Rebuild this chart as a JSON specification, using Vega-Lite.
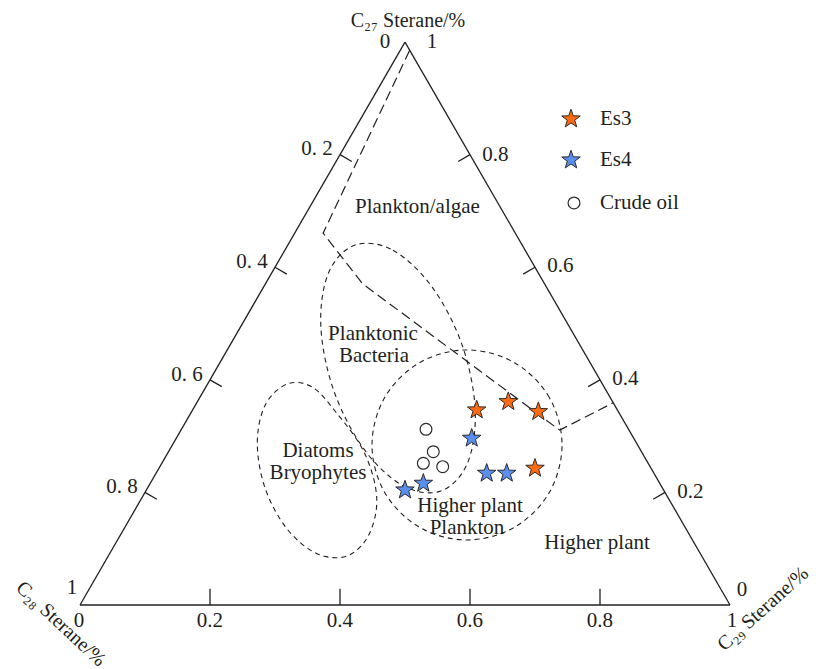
{
  "$schema": "https://vega.github.io/schema/vega-lite/v6.json",
  "width": 816,
  "height": 669,
  "padding": 0,
  "autosize": {"type": "none"},
  "background": "white",
  "config": {"view": {"stroke": null}},
  "datasets": {
    "frame": [
      {"x": 0, "y": 0, "x2": 1, "y2": 0},
      {"x": 0, "y": 0, "x2": 0.5, "y2": 0.866},
      {"x": 1, "y": 0, "x2": 0.5, "y2": 0.866},
      {"x": 0.4, "y": 0.6928, "x2": 0.4182, "y2": 0.6823},
      {"x": 0.3, "y": 0.5196, "x2": 0.3182, "y2": 0.5091},
      {"x": 0.2, "y": 0.3464, "x2": 0.2182, "y2": 0.3359},
      {"x": 0.1, "y": 0.1732, "x2": 0.1182, "y2": 0.1627},
      {"x": 0.9, "y": 0.1732, "x2": 0.8818, "y2": 0.1627},
      {"x": 0.8, "y": 0.3464, "x2": 0.7818, "y2": 0.3359},
      {"x": 0.7, "y": 0.5196, "x2": 0.6818, "y2": 0.5091},
      {"x": 0.6, "y": 0.6928, "x2": 0.5818, "y2": 0.6823},
      {"x": 0.2, "y": 0, "x2": 0.2, "y2": 0.025},
      {"x": 0.4, "y": 0, "x2": 0.4, "y2": 0.025},
      {"x": 0.6, "y": 0, "x2": 0.6, "y2": 0.025},
      {"x": 0.8, "y": 0, "x2": 0.8, "y2": 0.025}
    ],
    "boundary": [
      {"i": 0, "x": 0.507, "y": 0.853},
      {"i": 1, "x": 0.374, "y": 0.572},
      {"i": 2, "x": 0.435, "y": 0.494},
      {"i": 3, "x": 0.738, "y": 0.269},
      {"i": 4, "x": 0.82, "y": 0.311}
    ],
    "zoneA": [
      {"i": 0, "x": 0.4232, "y": 0.5538},
      {"i": 1, "x": 0.4815, "y": 0.5457},
      {"i": 2, "x": 0.5418, "y": 0.4891},
      {"i": 3, "x": 0.5882, "y": 0.3991},
      {"i": 4, "x": 0.608, "y": 0.2998},
      {"i": 5, "x": 0.596, "y": 0.218},
      {"i": 6, "x": 0.5552, "y": 0.1754},
      {"i": 7, "x": 0.4969, "y": 0.1835},
      {"i": 8, "x": 0.4366, "y": 0.2402},
      {"i": 9, "x": 0.3903, "y": 0.3302},
      {"i": 10, "x": 0.3705, "y": 0.4294},
      {"i": 11, "x": 0.3825, "y": 0.5112}
    ],
    "zoneB": [
      {"i": 0, "x": 0.4098, "y": 0.0752},
      {"i": 1, "x": 0.4438, "y": 0.1068},
      {"i": 2, "x": 0.4565, "y": 0.1652},
      {"i": 3, "x": 0.4369, "y": 0.2354},
      {"i": 4, "x": 0.3923, "y": 0.2985},
      {"i": 5, "x": 0.3569, "y": 0.3354},
      {"i": 6, "x": 0.3194, "y": 0.3402},
      {"i": 7, "x": 0.2854, "y": 0.3086},
      {"i": 8, "x": 0.2728, "y": 0.2502},
      {"i": 9, "x": 0.2846, "y": 0.1803},
      {"i": 10, "x": 0.318, "y": 0.1178},
      {"i": 11, "x": 0.3638, "y": 0.0794}
    ],
    "zoneC": [
      {"i": 0, "x": 0.7416, "y": 0.2462},
      {"i": 1, "x": 0.722, "y": 0.3193},
      {"i": 2, "x": 0.6685, "y": 0.3728},
      {"i": 3, "x": 0.5954, "y": 0.3924},
      {"i": 4, "x": 0.5223, "y": 0.3728},
      {"i": 5, "x": 0.4688, "y": 0.3193},
      {"i": 6, "x": 0.4492, "y": 0.2462},
      {"i": 7, "x": 0.4688, "y": 0.1731},
      {"i": 8, "x": 0.5223, "y": 0.1196},
      {"i": 9, "x": 0.5954, "y": 0.1},
      {"i": 10, "x": 0.6685, "y": 0.1196},
      {"i": 11, "x": 0.722, "y": 0.1731}
    ],
    "es3": [
      {"x": 0.6103, "y": 0.3},
      {"x": 0.6589, "y": 0.3128},
      {"x": 0.7051, "y": 0.2974},
      {"x": 0.7, "y": 0.2103},
      {"x": 0.7554, "y": 0.7477}
    ],
    "es4": [
      {"x": 0.6026, "y": 0.2565},
      {"x": 0.6257, "y": 0.2026},
      {"x": 0.6565, "y": 0.2026},
      {"x": 0.5282, "y": 0.1872},
      {"x": 0.5, "y": 0.1769},
      {"x": 0.7554, "y": 0.6846}
    ],
    "crude": [
      {"x": 0.5323, "y": 0.2703},
      {"x": 0.5435, "y": 0.2358},
      {"x": 0.5282, "y": 0.218},
      {"x": 0.558, "y": 0.2128},
      {"x": 0.76, "y": 0.6185}
    ],
    "legendLabels": [
      {"x": 0.8, "y": 0.7477, "text": "Es3"},
      {"x": 0.8, "y": 0.6846, "text": "Es4"},
      {"x": 0.8, "y": 0.6185, "text": "Crude oil"}
    ],
    "regions": [
      {"x": 0.5192, "y": 0.6123, "text": "Plankton/algae"},
      {"x": 0.4508, "y": 0.4169, "text": "Planktonic"},
      {"x": 0.4523, "y": 0.3831, "text": "Bacteria"},
      {"x": 0.3662, "y": 0.2369, "text": "Diatoms"},
      {"x": 0.3662, "y": 0.2031, "text": "Bryophytes"},
      {"x": 0.6, "y": 0.1523, "text": "Higher plant"},
      {"x": 0.5954, "y": 0.1185, "text": "Plankton"},
      {"x": 0.7954, "y": 0.0954, "text": "Higher plant"}
    ],
    "leftLabels": [
      {"x": 0.389, "y": 0.7008, "text": "0. 2"},
      {"x": 0.289, "y": 0.5276, "text": "0. 4"},
      {"x": 0.189, "y": 0.3544, "text": "0. 6"},
      {"x": 0.089, "y": 0.1812, "text": "0. 8"}
    ],
    "rightLabels": [
      {"x": 0.619, "y": 0.6928, "text": "0.8"},
      {"x": 0.719, "y": 0.5216, "text": "0.6"},
      {"x": 0.819, "y": 0.3484, "text": "0.4"},
      {"x": 0.919, "y": 0.1732, "text": "0.2"}
    ],
    "centerLabels": [
      {"x": 0.2, "y": -0.0246, "text": "0.2"},
      {"x": 0.4, "y": -0.0246, "text": "0.4"},
      {"x": 0.6, "y": -0.0246, "text": "0.6"},
      {"x": 0.8, "y": -0.0246, "text": "0.8"},
      {"x": 0.4692, "y": 0.866, "text": "0"},
      {"x": 0.5415, "y": 0.866, "text": "1"},
      {"x": -0.0123, "y": 0.0262, "text": "1"},
      {"x": -0.0015, "y": -0.0246, "text": "0"},
      {"x": 1.0185, "y": 0.0231, "text": "0"},
      {"x": 1.003, "y": -0.0246, "text": "1"}
    ],
    "titleTop": [{"x": 0.5046, "y": 0.898, "text": "C₂₇ Sterane/%"}],
    "titleLeft": [{"x": -0.0292, "y": -0.0292, "text": "C₂₈ Sterane/%"}],
    "titleRight": [{"x": 1.0508, "y": -0.006, "text": "C₂₉ Sterane/%"}]
  },
  "layer": [
    {
      "data": {"name": "frame"},
      "mark": {"type": "rule", "color": "#231f20", "strokeWidth": 1.3},
      "encoding": {
        "x": {"field": "x", "type": "quantitative", "scale": {"domain": [-0.123077, 1.132308], "nice": false, "zero": false}, "axis": null},
        "y": {"field": "y", "type": "quantitative", "scale": {"domain": [-0.098462, 0.930769], "nice": false, "zero": false}, "axis": null},
        "x2": {"field": "x2"}, "y2": {"field": "y2"}
      }
    },
    {
      "data": {"name": "boundary"},
      "mark": {"type": "line", "color": "#231f20", "strokeWidth": 1.2, "strokeDash": [10, 5]},
      "encoding": {
        "x": {"field": "x", "type": "quantitative"},
        "y": {"field": "y", "type": "quantitative"},
        "order": {"field": "i", "type": "quantitative"}
      }
    },
    {
      "data": {"name": "zoneA"},
      "mark": {"type": "line", "color": "#231f20", "strokeWidth": 1.1, "strokeDash": [5, 4], "interpolate": "cardinal-closed"},
      "encoding": {
        "x": {"field": "x", "type": "quantitative"},
        "y": {"field": "y", "type": "quantitative"},
        "order": {"field": "i", "type": "quantitative"}
      }
    },
    {
      "data": {"name": "zoneB"},
      "mark": {"type": "line", "color": "#231f20", "strokeWidth": 1.1, "strokeDash": [5, 4], "interpolate": "cardinal-closed"},
      "encoding": {
        "x": {"field": "x", "type": "quantitative"},
        "y": {"field": "y", "type": "quantitative"},
        "order": {"field": "i", "type": "quantitative"}
      }
    },
    {
      "data": {"name": "zoneC"},
      "mark": {"type": "line", "color": "#231f20", "strokeWidth": 1.1, "strokeDash": [5, 4], "interpolate": "cardinal-closed"},
      "encoding": {
        "x": {"field": "x", "type": "quantitative"},
        "y": {"field": "y", "type": "quantitative"},
        "order": {"field": "i", "type": "quantitative"}
      }
    },
    {
      "data": {"name": "regions"},
      "mark": {"type": "text", "font": "Liberation Serif", "fontSize": 21, "color": "#231f20", "align": "center", "baseline": "middle"},
      "encoding": {"x": {"field": "x", "type": "quantitative"}, "y": {"field": "y", "type": "quantitative"}, "text": {"field": "text"}}
    },
    {
      "data": {"name": "leftLabels"},
      "mark": {"type": "text", "font": "Liberation Serif", "fontSize": 21, "color": "#231f20", "align": "right", "baseline": "middle"},
      "encoding": {"x": {"field": "x", "type": "quantitative"}, "y": {"field": "y", "type": "quantitative"}, "text": {"field": "text"}}
    },
    {
      "data": {"name": "rightLabels"},
      "mark": {"type": "text", "font": "Liberation Serif", "fontSize": 21, "color": "#231f20", "align": "left", "baseline": "middle"},
      "encoding": {"x": {"field": "x", "type": "quantitative"}, "y": {"field": "y", "type": "quantitative"}, "text": {"field": "text"}}
    },
    {
      "data": {"name": "centerLabels"},
      "mark": {"type": "text", "font": "Liberation Serif", "fontSize": 21, "color": "#231f20", "align": "center", "baseline": "middle"},
      "encoding": {"x": {"field": "x", "type": "quantitative"}, "y": {"field": "y", "type": "quantitative"}, "text": {"field": "text"}}
    },
    {
      "data": {"name": "titleTop"},
      "mark": {"type": "text", "font": "Liberation Serif", "fontSize": 20, "color": "#231f20", "align": "center", "baseline": "middle"},
      "encoding": {"x": {"field": "x", "type": "quantitative"}, "y": {"field": "y", "type": "quantitative"}, "text": {"field": "text"}}
    },
    {
      "data": {"name": "titleLeft"},
      "mark": {"type": "text", "font": "Liberation Serif", "fontSize": 20, "color": "#231f20", "align": "center", "baseline": "middle", "angle": 43},
      "encoding": {"x": {"field": "x", "type": "quantitative"}, "y": {"field": "y", "type": "quantitative"}, "text": {"field": "text"}}
    },
    {
      "data": {"name": "titleRight"},
      "mark": {"type": "text", "font": "Liberation Serif", "fontSize": 20, "color": "#231f20", "align": "center", "baseline": "middle", "angle": -42},
      "encoding": {"x": {"field": "x", "type": "quantitative"}, "y": {"field": "y", "type": "quantitative"}, "text": {"field": "text"}}
    },
    {
      "data": {"name": "legendLabels"},
      "mark": {"type": "text", "font": "Liberation Serif", "fontSize": 21, "color": "#231f20", "align": "left", "baseline": "middle"},
      "encoding": {"x": {"field": "x", "type": "quantitative"}, "y": {"field": "y", "type": "quantitative"}, "text": {"field": "text"}}
    },
    {
      "data": {"name": "crude"},
      "mark": {"type": "point", "shape": "circle", "filled": true, "fill": "#ffffff", "size": 140, "stroke": "#2b2b2b", "strokeWidth": 1.2, "opacity": 1},
      "encoding": {"x": {"field": "x", "type": "quantitative"}, "y": {"field": "y", "type": "quantitative"}}
    },
    {
      "data": {"name": "es3"},
      "mark": {"type": "point", "shape": "M0,-1L0.2351,-0.3236L0.9511,-0.309L0.3804,0.1236L0.5878,0.809L0,0.4L-0.5878,0.809L-0.3804,0.1236L-0.9511,-0.309L-0.2351,-0.3236Z", "filled": true, "fill": "#FF6A10", "size": 380, "stroke": "#2b2b2b", "strokeWidth": 1, "opacity": 1},
      "encoding": {"x": {"field": "x", "type": "quantitative"}, "y": {"field": "y", "type": "quantitative"}}
    },
    {
      "data": {"name": "es4"},
      "mark": {"type": "point", "shape": "M0,-1L0.2351,-0.3236L0.9511,-0.309L0.3804,0.1236L0.5878,0.809L0,0.4L-0.5878,0.809L-0.3804,0.1236L-0.9511,-0.309L-0.2351,-0.3236Z", "filled": true, "fill": "#5B8FEE", "size": 380, "stroke": "#2b2b2b", "strokeWidth": 1, "opacity": 1},
      "encoding": {"x": {"field": "x", "type": "quantitative"}, "y": {"field": "y", "type": "quantitative"}}
    }
  ]
}
